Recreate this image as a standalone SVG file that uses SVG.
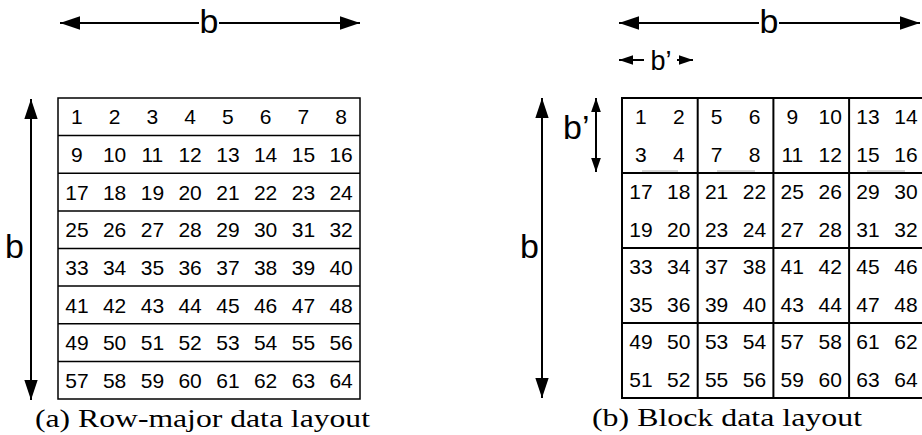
<svg xmlns="http://www.w3.org/2000/svg" width="922" height="435" viewBox="0 0 922 435">
<style>
.n{font-family:"Liberation Sans",Arial,sans-serif;font-size:21px;text-anchor:middle;fill:#000}
.lbl{font-family:"Liberation Sans",Arial,sans-serif;fill:#000}
.cap{font-family:"Liberation Serif","Times New Roman",serif;font-size:26px;fill:#000}
.g1{fill:none;stroke:#000;stroke-width:1.5}
.g2{fill:none;stroke:#000;stroke-width:2}
.ar{fill:none;stroke:#000;stroke-width:2}
.faint{stroke:#aaa;stroke-width:1}
</style>
<defs>
<marker id="hL" markerUnits="userSpaceOnUse" markerWidth="20" markerHeight="14" refX="18" refY="6" orient="auto-start-reverse" viewBox="0 0 18 12">
<path d="M0,0 L18,6 L0,12 Z" fill="#000"/>
</marker>
<marker id="hS" markerUnits="userSpaceOnUse" markerWidth="14" markerHeight="10" refX="13" refY="4.5" orient="auto-start-reverse" viewBox="0 0 13 9">
<path d="M0,0 L13,4.5 L0,9 Z" fill="#000"/>
</marker>
</defs>

<g id="connectors">
<line class="ar" x1="60" y1="23" x2="199" y2="23" marker-start="url(#hL)"/>
<line class="ar" x1="219" y1="23" x2="360" y2="23" marker-end="url(#hL)"/>
<line class="ar" x1="31" y1="99" x2="31" y2="400" marker-start="url(#hL)" marker-end="url(#hL)"/>
<line class="ar" x1="619" y1="23" x2="759" y2="23" marker-start="url(#hL)"/>
<line class="ar" x1="779" y1="23" x2="920" y2="23" marker-end="url(#hL)"/>
<line class="ar" x1="619" y1="60" x2="644" y2="60" marker-start="url(#hS)"/>
<line class="ar" x1="677" y1="60" x2="693" y2="60" marker-end="url(#hS)"/>
<line class="ar" x1="542" y1="98" x2="542" y2="398" marker-start="url(#hL)" marker-end="url(#hL)"/>
<line class="ar" x1="596" y1="98" x2="596" y2="172" marker-start="url(#hS)" marker-end="url(#hS)"/>
</g>

<g id="labels">
<text class="lbl" x="209" y="33" font-size="34" text-anchor="middle">b</text>
<text class="lbl" x="5" y="258" font-size="34">b</text>
<text class="lbl" x="769" y="33" font-size="34" text-anchor="middle">b</text>
<text class="lbl" x="661" y="70" font-size="27" text-anchor="middle">b’</text>
<text class="lbl" x="563" y="139" font-size="34">b’</text>
<text class="lbl" x="520" y="258" font-size="34">b</text>
</g>

<g id="grid-a">
<rect class="g1" x="58" y="98" width="302" height="301"/>
<line class="g1" x1="58" y1="135.6" x2="360" y2="135.6"/>
<line class="g1" x1="58" y1="173.3" x2="360" y2="173.3"/>
<line class="g1" x1="58" y1="210.9" x2="360" y2="210.9"/>
<line class="g1" x1="58" y1="248.5" x2="360" y2="248.5"/>
<line class="g1" x1="58" y1="286.1" x2="360" y2="286.1"/>
<line class="g1" x1="58" y1="323.8" x2="360" y2="323.8"/>
<line class="g1" x1="58" y1="361.4" x2="360" y2="361.4"/>
</g>
<g id="numbers-a">
<text class="n" x="76.9" y="124.3">1</text><text class="n" x="114.6" y="124.3">2</text><text class="n" x="152.4" y="124.3">3</text><text class="n" x="190.1" y="124.3">4</text><text class="n" x="227.9" y="124.3">5</text><text class="n" x="265.6" y="124.3">6</text><text class="n" x="303.4" y="124.3">7</text><text class="n" x="341.1" y="124.3">8</text>
<text class="n" x="76.9" y="161.9">9</text><text class="n" x="114.6" y="161.9">10</text><text class="n" x="152.4" y="161.9">11</text><text class="n" x="190.1" y="161.9">12</text><text class="n" x="227.9" y="161.9">13</text><text class="n" x="265.6" y="161.9">14</text><text class="n" x="303.4" y="161.9">15</text><text class="n" x="341.1" y="161.9">16</text>
<text class="n" x="76.9" y="199.6">17</text><text class="n" x="114.6" y="199.6">18</text><text class="n" x="152.4" y="199.6">19</text><text class="n" x="190.1" y="199.6">20</text><text class="n" x="227.9" y="199.6">21</text><text class="n" x="265.6" y="199.6">22</text><text class="n" x="303.4" y="199.6">23</text><text class="n" x="341.1" y="199.6">24</text>
<text class="n" x="76.9" y="237.2">25</text><text class="n" x="114.6" y="237.2">26</text><text class="n" x="152.4" y="237.2">27</text><text class="n" x="190.1" y="237.2">28</text><text class="n" x="227.9" y="237.2">29</text><text class="n" x="265.6" y="237.2">30</text><text class="n" x="303.4" y="237.2">31</text><text class="n" x="341.1" y="237.2">32</text>
<text class="n" x="76.9" y="274.8">33</text><text class="n" x="114.6" y="274.8">34</text><text class="n" x="152.4" y="274.8">35</text><text class="n" x="190.1" y="274.8">36</text><text class="n" x="227.9" y="274.8">37</text><text class="n" x="265.6" y="274.8">38</text><text class="n" x="303.4" y="274.8">39</text><text class="n" x="341.1" y="274.8">40</text>
<text class="n" x="76.9" y="312.5">41</text><text class="n" x="114.6" y="312.5">42</text><text class="n" x="152.4" y="312.5">43</text><text class="n" x="190.1" y="312.5">44</text><text class="n" x="227.9" y="312.5">45</text><text class="n" x="265.6" y="312.5">46</text><text class="n" x="303.4" y="312.5">47</text><text class="n" x="341.1" y="312.5">48</text>
<text class="n" x="76.9" y="350.1">49</text><text class="n" x="114.6" y="350.1">50</text><text class="n" x="152.4" y="350.1">51</text><text class="n" x="190.1" y="350.1">52</text><text class="n" x="227.9" y="350.1">53</text><text class="n" x="265.6" y="350.1">54</text><text class="n" x="303.4" y="350.1">55</text><text class="n" x="341.1" y="350.1">56</text>
<text class="n" x="76.9" y="387.7">57</text><text class="n" x="114.6" y="387.7">58</text><text class="n" x="152.4" y="387.7">59</text><text class="n" x="190.1" y="387.7">60</text><text class="n" x="227.9" y="387.7">61</text><text class="n" x="265.6" y="387.7">62</text><text class="n" x="303.4" y="387.7">63</text><text class="n" x="341.1" y="387.7">64</text>
</g>

<g id="grid-b">
<path class="g2" d="M926,98 H622 V398 H926"/>
<line class="g2" x1="622" y1="173" x2="926" y2="173"/>
<line class="g2" x1="622" y1="248" x2="926" y2="248"/>
<line class="g2" x1="622" y1="323" x2="926" y2="323"/>
<line class="g2" x1="697.7" y1="98" x2="697.7" y2="398"/>
<line class="g2" x1="773.4" y1="98" x2="773.4" y2="398"/>
<line class="g2" x1="849.1" y1="98" x2="849.1" y2="398"/>
<line class="faint" x1="642" y1="171" x2="678" y2="171"/>
<line class="faint" x1="717" y1="171" x2="755" y2="171"/>
<line class="faint" x1="867" y1="171" x2="905" y2="171"/>
</g>
<g id="numbers-b">
<text class="n" x="640.9" y="124.3">1</text><text class="n" x="678.8" y="124.3">2</text><text class="n" x="716.6" y="124.3">5</text><text class="n" x="754.5" y="124.3">6</text><text class="n" x="792.3" y="124.3">9</text><text class="n" x="830.2" y="124.3">10</text><text class="n" x="868" y="124.3">13</text><text class="n" x="905.9" y="124.3">14</text>
<text class="n" x="640.9" y="161.8">3</text><text class="n" x="678.8" y="161.8">4</text><text class="n" x="716.6" y="161.8">7</text><text class="n" x="754.5" y="161.8">8</text><text class="n" x="792.3" y="161.8">11</text><text class="n" x="830.2" y="161.8">12</text><text class="n" x="868" y="161.8">15</text><text class="n" x="905.9" y="161.8">16</text>
<text class="n" x="640.9" y="199.3">17</text><text class="n" x="678.8" y="199.3">18</text><text class="n" x="716.6" y="199.3">21</text><text class="n" x="754.5" y="199.3">22</text><text class="n" x="792.3" y="199.3">25</text><text class="n" x="830.2" y="199.3">26</text><text class="n" x="868" y="199.3">29</text><text class="n" x="905.9" y="199.3">30</text>
<text class="n" x="640.9" y="236.8">19</text><text class="n" x="678.8" y="236.8">20</text><text class="n" x="716.6" y="236.8">23</text><text class="n" x="754.5" y="236.8">24</text><text class="n" x="792.3" y="236.8">27</text><text class="n" x="830.2" y="236.8">28</text><text class="n" x="868" y="236.8">31</text><text class="n" x="905.9" y="236.8">32</text>
<text class="n" x="640.9" y="274.3">33</text><text class="n" x="678.8" y="274.3">34</text><text class="n" x="716.6" y="274.3">37</text><text class="n" x="754.5" y="274.3">38</text><text class="n" x="792.3" y="274.3">41</text><text class="n" x="830.2" y="274.3">42</text><text class="n" x="868" y="274.3">45</text><text class="n" x="905.9" y="274.3">46</text>
<text class="n" x="640.9" y="311.8">35</text><text class="n" x="678.8" y="311.8">36</text><text class="n" x="716.6" y="311.8">39</text><text class="n" x="754.5" y="311.8">40</text><text class="n" x="792.3" y="311.8">43</text><text class="n" x="830.2" y="311.8">44</text><text class="n" x="868" y="311.8">47</text><text class="n" x="905.9" y="311.8">48</text>
<text class="n" x="640.9" y="349.3">49</text><text class="n" x="678.8" y="349.3">50</text><text class="n" x="716.6" y="349.3">53</text><text class="n" x="754.5" y="349.3">54</text><text class="n" x="792.3" y="349.3">57</text><text class="n" x="830.2" y="349.3">58</text><text class="n" x="868" y="349.3">61</text><text class="n" x="905.9" y="349.3">62</text>
<text class="n" x="640.9" y="386.8">51</text><text class="n" x="678.8" y="386.8">52</text><text class="n" x="716.6" y="386.8">55</text><text class="n" x="754.5" y="386.8">56</text><text class="n" x="792.3" y="386.8">59</text><text class="n" x="830.2" y="386.8">60</text><text class="n" x="868" y="386.8">63</text><text class="n" x="905.9" y="386.8">64</text>
</g>

<g id="captions">
<text class="cap" x="35" y="427" textLength="335" lengthAdjust="spacingAndGlyphs">(a) Row-major data layout</text>
<text class="cap" x="592" y="426" textLength="270" lengthAdjust="spacingAndGlyphs">(b) Block data layout</text>
</g>
</svg>
